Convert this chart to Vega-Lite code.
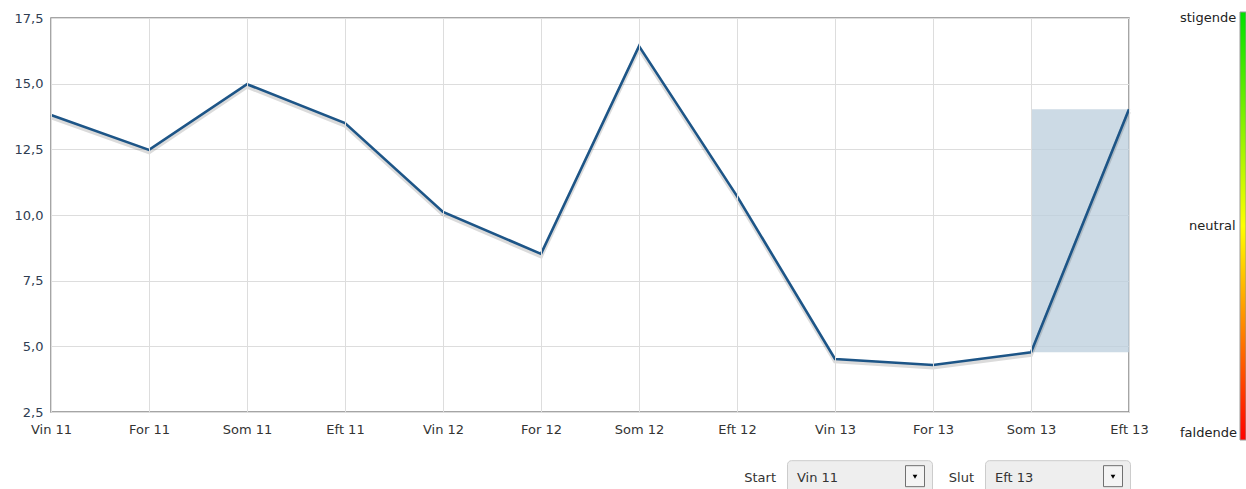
{
  "$schema": "https://vega.github.io/schema/vega-lite/v6.json",
  "autosize": {"type": "none"},
  "padding": {"left": 51, "top": 18, "right": 117, "bottom": 77},
  "width": 1078,
  "height": 394,
  "background": "white",
  "config": {
    "font": "DejaVu Sans",
    "view": {"stroke": "#888888", "strokeWidth": 1.5},
    "axis": {"labelFont": "DejaVu Sans", "labelFontSize": 13, "gridColor": "#dddddd", "gridWidth": 1, "domain": false, "ticks": false, "title": null}
  },
  "datasets": {
    "series": [
      {"period": "Vin 11", "value": 13.81},
      {"period": "For 11", "value": 12.48},
      {"period": "Som 11", "value": 14.98},
      {"period": "Eft 11", "value": 13.5},
      {"period": "Vin 12", "value": 10.12},
      {"period": "For 12", "value": 8.52},
      {"period": "Som 12", "value": 16.43},
      {"period": "Eft 12", "value": 10.72},
      {"period": "Vin 13", "value": 4.52},
      {"period": "For 13", "value": 4.29},
      {"period": "Som 13", "value": 4.77},
      {"period": "Eft 13", "value": 14.03}
    ],
    "band": [{"from": "Som 13", "to": "Eft 13", "low": 4.77, "high": 14.03}],
    "controls": [
      {"label": "Start", "selected": "Vin 11"},
      {"label": "Slut", "selected": "Eft 13"}
    ],
    "trend": [
      {"trend": -1, "name": "faldende"},
      {"trend": 0, "name": "neutral"},
      {"trend": 1, "name": "stigende"}
    ]
  },
  "layer": [
    {
      "layer": [
        {
          "data": {"name": "band"},
          "mark": {"type": "rect", "fill": "#bbcedc", "opacity": 0.75},
          "encoding": {
            "x": {"field": "from", "type": "nominal"},
            "x2": {"field": "to"},
            "y": {"field": "low", "type": "quantitative"},
            "y2": {"field": "high"}
          }
        },
        {
          "data": {"name": "series"},
          "mark": {"type": "line", "stroke": "#000000", "strokeWidth": 4, "opacity": 0.14, "yOffset": 2.5},
          "encoding": {
            "x": {"field": "period", "type": "nominal", "sort": null},
            "y": {"field": "value", "type": "quantitative"}
          }
        },
        {
          "data": {"name": "series"},
          "mark": {"type": "line", "stroke": "#1d5587", "strokeWidth": 2.6},
          "encoding": {
            "x": {
              "field": "period", "type": "nominal", "sort": null,
              "scale": {"type": "point", "padding": 0, "domain": ["Vin 11", "For 11", "Som 11", "Eft 11", "Vin 12", "For 12", "Som 12", "Eft 12", "Vin 13", "For 13", "Som 13", "Eft 13"]},
              "axis": {"grid": true, "labelAngle": 0, "labelPadding": 17, "labelColor": "#333333", "labelBound": false, "labelFlush": false, "labelAlign": "center"}
            },
            "y": {
              "field": "value", "type": "quantitative",
              "scale": {"domain": [2.5, 17.5], "nice": false, "zero": false},
              "axis": {"values": [2.5, 5, 7.5, 10, 12.5, 15, 17.5], "labelPadding": 8, "labelColor": "#2e3d52", "labelExpr": "replace(format(datum.value, '.1f'), '.', ',')"}
            }
          }
        },
        {
          "data": {"name": "trend"},
          "mark": {"type": "point", "size": 0, "strokeWidth": 0, "filled": true, "opacity": 1},
          "encoding": {
            "x": {"datum": "Eft 13", "type": "nominal"},
            "y": {"datum": 10, "type": "quantitative"},
            "color": {
              "field": "trend", "type": "quantitative",
              "scale": {"domain": [-1, 1], "range": ["#ff0000", "#ffff00", "#00e000"], "interpolate": "rgb"},
              "legend": {
                "orient": "none", "legendX": 1189, "legendY": -6, "direction": "vertical",
                "title": null, "gradientLength": 428, "gradientThickness": 6,
                "gradientStrokeColor": "#999999", "gradientStrokeWidth": 1,
                "values": [-1, 0, 1],
                "labelExpr": "datum.value > 0.5 ? 'stigende' : datum.value < -0.5 ? 'faldende' : '\u200b\u2002\u2009neutral'",
                "labelOffset": -66, "labelFontSize": 13, "labelColor": "#222222", "labelFont": "DejaVu Sans", "labelOverlap": false
              }
            }
          }
        }
      ]
    },
    {
      "data": {"name": "controls"},
      "layer": [
        {
          "mark": {"type": "rect", "width": 145, "fill": "#eeeeee", "stroke": "#cccccc", "strokeWidth": 1, "cornerRadius": 4, "yOffset": -17, "y2Offset": 16},
          "encoding": {
            "y": {"datum": 0, "type": "quantitative"},
            "y2": {"datum": 0}
          }
        },
        {
          "mark": {"type": "rect", "width": 19, "xOffset": 55, "fill": "#f4f4f4", "stroke": "#707070", "strokeWidth": 1, "yOffset": -12, "y2Offset": 9},
          "encoding": {
            "y": {"datum": 0, "type": "quantitative"},
            "y2": {"datum": 0}
          }
        },
        {
          "mark": {"type": "point", "shape": "triangle-down", "size": 22, "filled": true, "color": "#000000", "opacity": 1, "xOffset": 55, "yOffset": -1},
          "encoding": {
            "y": {"datum": 0, "type": "quantitative"}
          }
        },
        {
          "mark": {"type": "text", "align": "right", "baseline": "middle", "dx": -84, "fontSize": 13, "color": "#333333"},
          "encoding": {
            "y": {"datum": 0, "type": "quantitative"},
            "text": {"field": "label"}
          }
        },
        {
          "mark": {"type": "text", "align": "left", "baseline": "middle", "dx": -63, "fontSize": 13, "color": "#333333"},
          "encoding": {
            "y": {"datum": 0, "type": "quantitative"},
            "text": {"field": "selected"}
          }
        }
      ],
      "encoding": {
        "x": {"field": "label", "type": "nominal", "sort": null, "scale": {"type": "point", "domain": ["Start", "Slut"], "range": [809, 1007], "padding": 0}, "axis": null}
      }
    }
  ],
  "resolve": {"scale": {"x": "independent"}, "axis": {"x": "independent"}}
}
